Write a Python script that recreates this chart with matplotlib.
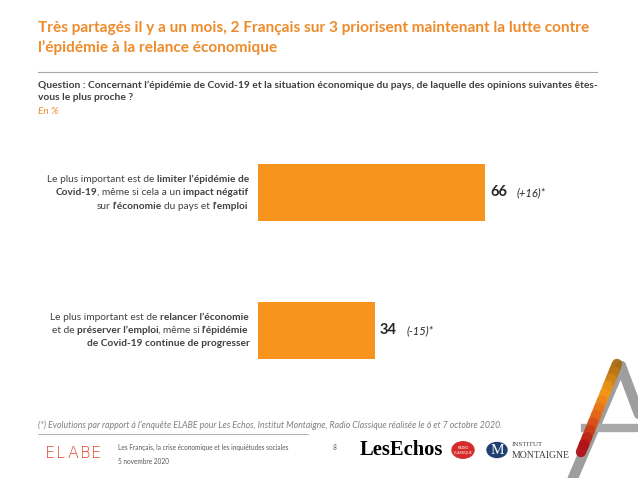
import matplotlib
matplotlib.use('Agg')
import matplotlib.pyplot as plt
from matplotlib import ft2font
from matplotlib.patches import Circle
from matplotlib.font_manager import FontProperties, findfont, get_font
import numpy as np

W, H = 638, 478
FONT = 'Lato'
plt.rcParams['font.family'] = [FONT, 'DejaVu Sans']

ORANGE = '#F7941E'
TITLE_ORANGE = '#EE8B2B'
DARK = '#262626'

try:
    KERN = ft2font.Kerning.DEFAULT
except AttributeError:
    KERN = ft2font.KERNING_DEFAULT

# data
categories = [
    [[("Le plus important est de ", 'normal'), ("limiter l\u2019épidémie de", 'bold')],
     [("Covid-19", 'bold'), (", même si cela a un ", 'normal'), ("impact négatif", 'bold')],
     [("sur ", 'normal'), ("l\u2019économie", 'bold'), (" du pays et ", 'normal'), ("l\u2019emploi", 'bold')]],
    [[("Le plus important est de ", 'normal'), ("relancer l\u2019économie", 'bold')],
     [("et de ", 'normal'), ("préserver l\u2019emploi", 'bold'), (", même si ", 'normal'), ("l\u2019épidémie", 'bold')],
     [("de Covid-19 continue de progresser", 'bold')]],
]
values = [66, 34]
evolutions = ['(+16)*', '(-15)*']


def fx(px):
    return px / W


def fy(py):
    return 1 - py / H


fig = plt.figure(figsize=(W / 100, H / 100), dpi=100)


def advance(s, weight, size):
    # pen advance in pixels, glyph by glyph, with kerning
    font = get_font(findfont(FontProperties(family=FONT, weight=weight)))
    font.set_size(size, 100)
    total, prev = 0.0, None
    for c in s:
        idx = font.get_char_index(ord(c))
        if prev is not None:
            total += font.get_kerning(prev, idx, KERN) / 64
        total += font.load_char(ord(c)).linearHoriAdvance / 65536
        prev = idx
    return total


def rich_line(x_right, y, parts, size, color):
    # right aligned line made of regular / bold pieces
    widths = [advance(s, wt, size) for s, wt in parts]
    start = x_right - sum(widths)
    x = start
    for (s, wt), w in zip(parts, widths):
        lead = len(s) - len(s.lstrip(' '))
        core = s.strip(' ')
        # bold "l’" leaves a wide gap at this size, pull it in a little
        nudge = -0.8 if core.startswith('l\u2019') and x > start else 0
        fig.text(fx(x + advance(' ' * lead, wt, size) + nudge), fy(y), core, fontsize=size,
                 fontweight=wt, color=color, ha='left', va='center')
        x += w


# bar axes: 0..100 units over 344 px starting at x=258
ax = fig.add_axes([fx(258), fy(399.5), fx(344), (399.5 - 123.5) / H])
ypos = np.arange(len(values))
ax.barh(ypos, values, height=57 / 138, color=ORANGE)
ax.set_xlim(0, 100)
ax.set_ylim(1.5, -0.5)
ax.axis('off')

for i, (v, ev) in enumerate(zip(values, evolutions)):
    ax.annotate(str(v), (v, i), xytext=(3.5, 0), textcoords='offset points',
                fontsize=10.5, fontweight='bold', color=DARK, va='center', ha='left')
    ax.annotate(ev, (v, i), xytext=(23, 0), textcoords='offset points',
                fontsize=8, style='italic', color=DARK, va='center', ha='left')

# category labels
centers = [192.5, 330.5]
for c, lines in zip(centers, categories):
    for k, parts in enumerate(lines):
        rich_line(248, c - 13.5 + k * 13.5, parts, 7.3, '#404040')

# title
fig.text(fx(38), fy(28), "Très partagés il y a un mois, 2 Français sur 3 priorisent maintenant la lutte contre",
         fontsize=11.1, fontweight='bold', color=TITLE_ORANGE, va='center')
fig.text(fx(38), fy(48), "l\u2019épidémie à la relance économique",
         fontsize=11.1, fontweight='bold', color=TITLE_ORANGE, va='center')

fig.add_artist(plt.Line2D([fx(38), fx(597)], [fy(72), fy(72)], color='#A6A6A6', lw=0.8))

fig.text(fx(38), fy(85), "Question : Concernant l\u2019épidémie de Covid-19 et la situation économique du pays, de laquelle des opinions suivantes êtes-",
         fontsize=7.35, fontweight='bold', color='#404040', va='center')
fig.text(fx(38), fy(98), "vous le plus proche ?",
         fontsize=7.35, fontweight='bold', color='#404040', va='center')
fig.text(fx(38), fy(111), "En %", fontsize=7.2, style='italic', color=TITLE_ORANGE, va='center')

# footnote
fig.text(fx(38), fy(425), "(*) Evolutions par rapport à l\u2019enquête ELABE pour Les Echos, Institut Montaigne, Radio Classique réalisée le 6 et 7 octobre 2020.",
         fontsize=6.3, style='italic', color='#7F7F7F', va='center')
fig.add_artist(plt.Line2D([fx(38), fx(308)], [fy(434), fy(434)], color='#A6A6A6', lw=0.6))

# footer
for k, ch in enumerate("ELABE"):
    fig.text(fx(45 + k * 11.5), fy(453.5), ch, fontsize=11.5, color='#E8432B', va='center',
             family='DejaVu Sans', fontweight='light')
fig.text(fx(118), fy(447), "Les Français, la crise économique et les inquiétudes sociales",
         fontsize=4.7, color='#595959', va='center')
fig.text(fx(118), fy(462), "5 novembre 2020", fontsize=4.7, color='#595959', va='center')
fig.text(fx(333), fy(447), "8", fontsize=4.7, color='#595959', va='center')
fig.text(fx(360), fy(450), "LesEchos", fontsize=14.8, fontweight='bold', color='black',
         va='center', family='Liberation Serif')
fig.add_artist(Circle((fx(463), fy(450)), 11 / W, color='#D52B2B', transform=fig.transFigure))
fig.text(fx(463), fy(450), "RADIO\nCLASSIQUE", fontsize=2.5, color='white', ha='center', va='center')
fig.add_artist(Circle((fx(497), fy(450)), 10 / W, color='#1F3F73', transform=fig.transFigure))
fig.text(fx(497), fy(450), "M", fontsize=11, color='white', ha='center', va='center', family='Liberation Serif')
fig.text(fx(512), fy(444), "INSTITUT", fontsize=5, color='#404040', va='center', family='Liberation Serif')
fig.text(fx(512), fy(455), "MONTAIGNE", fontsize=7, color='#404040', va='center', family='Liberation Serif')

# decorative "A" in the corner
deco = fig.add_axes([0, 0, 1, 1], zorder=-1)
deco.set_xlim(0, W)
deco.set_ylim(H, 0)
deco.axis('off')
deco.plot([570, 621], [485, 366], color='#9E9E9E', lw=7.5, solid_capstyle='round')
deco.plot([621, 645], [366, 430], color='#9E9E9E', lw=7.5, solid_capstyle='round')
deco.plot([585, 645], [428, 428], color='#A8A8A8', lw=6)
n = 12
px = np.linspace(617, 581, n + 1)
py = np.linspace(364, 452, n + 1)
cols = plt.matplotlib.colors.LinearSegmentedColormap.from_list('a', ['#A86A10', '#F39A1A', '#E0601A', '#B01218'])
for k in range(n):
    deco.plot(px[k:k + 2], py[k:k + 2], color=cols(k / (n - 1)), lw=7.5,
              solid_capstyle='round', alpha=0.95)

fig.savefig('out.png', dpi=100)
